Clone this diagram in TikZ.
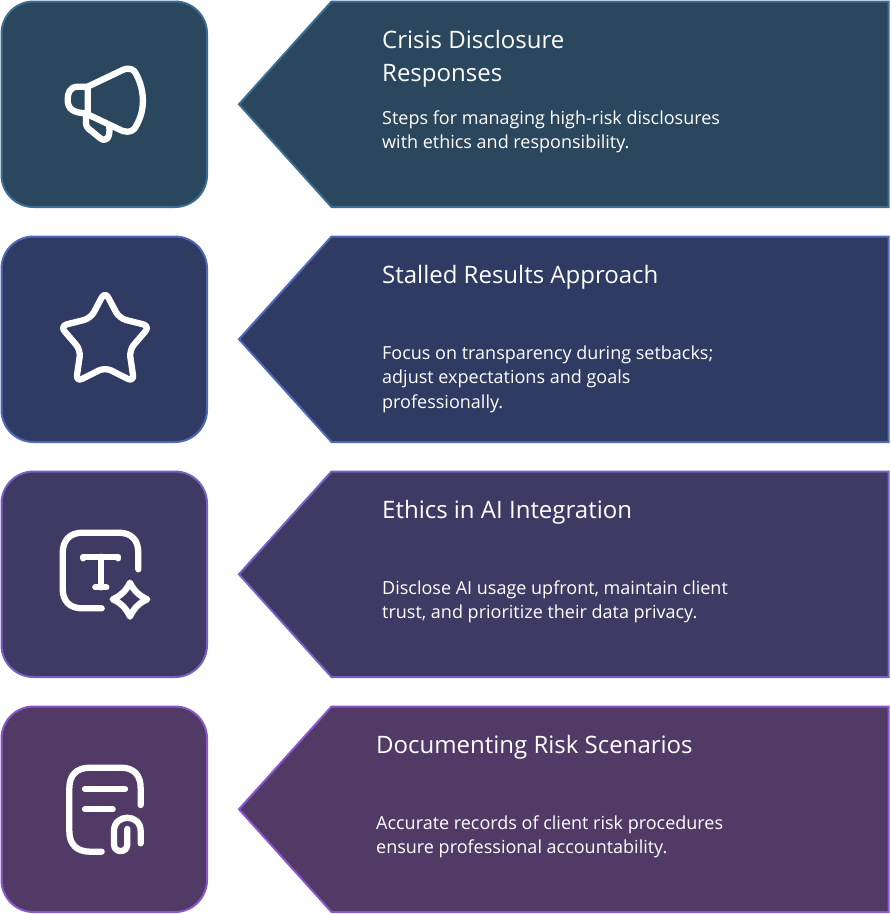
\documentclass[tikz,border=0pt]{standalone}
\usepackage{xcolor}
\usepackage{fontspec}
\setmainfont{Open Sans}
\usetikzlibrary{shapes.symbols, positioning}
\definecolor{tealfill}{RGB}{43, 71, 93}
\definecolor{tealline}{RGB}{58, 110, 148}
\definecolor{navyfill}{RGB}{47, 59, 99}
\definecolor{navyline}{RGB}{80, 104, 184}
\definecolor{indigofill}{RGB}{63, 58, 99}
\definecolor{indigoline}{RGB}{118, 96, 200}
\definecolor{plumfill}{RGB}{82, 58, 102}
\definecolor{plumline}{RGB}{138, 86, 204}

\begin{document}
\begin{tikzpicture}[
    x=1pt, y=-1pt,
    node distance=29.5pt,
    card/.style={draw, line width=2pt, rounded corners=32pt, minimum size=205.5pt, inner sep=0pt, outer sep=0pt},
    banner/.style={draw, line width=2pt, signal, signal to=west, signal pointer angle=96, minimum width=649.5pt, minimum height=205.5pt, inner sep=0pt, outer sep=0pt},
    heading/.style={anchor=north west, inner sep=0pt, align=left, text=white, font=\fontsize{24}{33}\selectfont},
    blurb/.style={anchor=north west, inner sep=0pt, align=left, text=white, font=\fontsize{18}{24.5}\selectfont},
    glyph/.style={draw=white, line width=6.3pt, line cap=round, line join=round},
    icon/.style={shift={#1}, scale=1/3}
]
    \useasboundingbox (0,0) rectangle (891,914);

    % Row 1 - Crisis
    \node[card, draw=tealline, fill=tealfill] (crisis) at (104.25,104.25) {};
    \node[banner, draw=tealline, fill=tealfill, right=32pt of crisis] (crisisbanner) {};
    \node[heading] (crisistitle) at (382,30) {Crisis Disclosure\\Responses};
    \node[blurb] (crisistext) at (382,110.5) {Steps for managing high-risk disclosures\\with ethics and responsibility.};

    % Row 2 - Stalled
    \node[card, draw=navyline, fill=navyfill, below=of crisis] (stalled) {};
    \node[banner, draw=navyline, fill=navyfill, right=32pt of stalled] (stalledbanner) {};
    \node[heading] (stalledtitle) at (382,265) {Stalled Results Approach};
    \node[blurb] (stalledtext) at (382,345.5) {Focus on transparency during setbacks;\\adjust expectations and goals\\professionally.};

    % Row 3 - Ethics
    \node[card, draw=indigoline, fill=indigofill, below=of stalled] (ethics) {};
    \node[banner, draw=indigoline, fill=indigofill, right=32pt of ethics] (ethicsbanner) {};
    \node[heading] (ethicstitle) at (382,500) {Ethics in AI Integration};
    \node[blurb] (ethicstext) at (382,580.5) {Disclose AI usage upfront, maintain client\\trust, and prioritize their data privacy.};

    % Row 4 - Records
    \node[card, draw=plumline, fill=plumfill, below=of ethics] (records) {};
    \node[banner, draw=plumline, fill=plumfill, right=32pt of records] (recordsbanner) {};
    \node[heading] (recordstitle) at (376,735) {Documenting Risk Scenarios};
    \node[blurb] (recordstext) at (376,815.5) {Accurate records of client risk procedures\\ensure professional accountability.};

    % Megaphone
    \begin{scope}[icon={(41,45)}]
        \draw[glyph] (140,125) -- (245,75) .. controls (265,66) and (280,72) .. (287,90)
            .. controls (312,140) and (312,195) .. (287,240)
            .. controls (280,258) and (265,264) .. (245,258) -- (140,208) -- cycle;
        \draw[glyph] (140,125) -- (112,125) .. controls (85,125) and (80,145) .. (80,165)
            .. controls (80,190) and (95,205) .. (140,205);
        \draw[glyph] (135,215) -- (135,232) .. controls (135,245) and (140,250) .. (150,257)
            -- (178,280) .. controls (195,292) and (208,280) .. (205,245);
    \end{scope}

    % Star
    \begin{scope}[icon={(40,270)}]
        \draw[glyph, rounded corners=7pt] (195,64) -- (238,145) -- (330,168) -- (268,240)
            -- (282,336) -- (195,292) -- (108,336) -- (122,240) -- (60,168) -- (152,145) -- cycle;
    \end{scope}

    % Text frame and sparkle
    \begin{scope}[icon={(40,510)}]
        \draw[glyph] (295,178) -- (295,130) .. controls (295,90) and (275,68) .. (235,68)
            -- (128,68) .. controls (90,68) and (68,90) .. (68,130) -- (68,235)
            .. controls (68,275) and (90,295) .. (128,295) -- (185,295);
        \draw[glyph] (130,145) -- (130,140) -- (235,140) -- (235,145);
        \draw[glyph] (182,140) -- (182,232);
        \draw[glyph] (166,232) -- (199,232);
        \draw[glyph] (270,218) .. controls (280,240) and (298,258) .. (322,268)
            .. controls (298,278) and (280,296) .. (270,320)
            .. controls (260,296) and (242,278) .. (218,268)
            .. controls (242,258) and (260,240) .. (270,218) -- cycle;
    \end{scope}

    % Document and clip
    \begin{scope}[icon={(40,745)}]
        \draw[glyph] (302,180) -- (302,130) .. controls (302,90) and (282,68) .. (242,68)
            -- (150,68) .. controls (110,68) and (88,90) .. (88,130) -- (88,258)
            .. controls (88,298) and (110,320) .. (150,320) -- (185,320);
        \draw[glyph] (135,132) -- (255,132);
        \draw[glyph] (135,193) -- (218,193);
        \draw[glyph] (302,295) -- (302,258) .. controls (302,205) and (222,205) .. (222,258)
            -- (222,298) .. controls (222,325) and (262,325) .. (262,298) -- (262,252);
    \end{scope}
\end{tikzpicture}
\end{document}
